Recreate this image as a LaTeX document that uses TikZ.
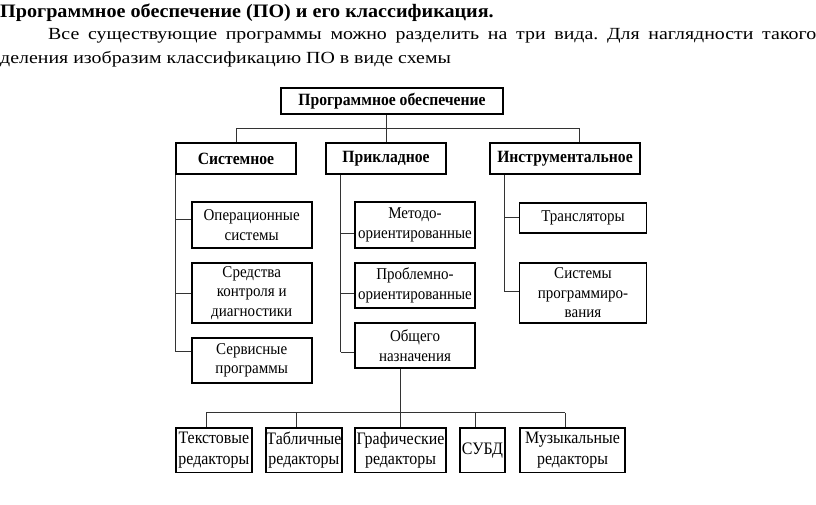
\documentclass[tikz,border=0pt]{standalone}
\usepackage{fontspec}
\setmainfont{Liberation Serif}
\newfontfamily\headfont[FakeStretch=1.06]{Liberation Serif}
\newfontfamily\bodyfont[FakeStretch=1.17]{Liberation Serif}
\newfontfamily\boxfont[FakeStretch=0.91]{Liberation Serif}
\frenchspacing
\begin{document}
\begin{tikzpicture}[x=1pt,y=-1pt,
  box/.style={draw=black, line width=1.6pt, inner sep=0pt, align=center, font=\boxfont\fontsize{16.5}{19.5}\selectfont},
  hbox/.style={box, font=\boxfont\fontsize{17.2}{19}\selectfont\bfseries},
  bbox/.style={box, minimum height=44.7pt, font=\boxfont\fontsize{17.5}{20.5}\selectfont},
  conn/.style={draw=black!80, line width=0.9pt},
  txt/.style={anchor=base west, inner sep=0pt}]
\useasboundingbox (0,0) rectangle (816,504);
% heading text
\node[txt, font=\headfont\fontsize{19}{22}\selectfont\bfseries] (h1) at (0,17) {Программное обеспечение (ПО) и его классификация.};
\node[txt, font=\bodyfont\fontsize{17}{22}\selectfont] (h2) at (48,39.5) {\makebox[768pt][s]{Все существующие программы можно разделить на три вида. Для наглядности такого}};
\node[txt, font=\bodyfont\fontsize{17}{22}\selectfont] (h3) at (0,63) {деления изобразим классификацию ПО в виде схемы};
% boxes
\node[hbox, minimum width=222pt, minimum height=26pt] (top) at (392,101) {Программное обеспечение};
\node[hbox, minimum width=120pt, minimum height=31pt] (sys) at (236,158.5) {Системное};
\node[hbox, minimum width=120pt, minimum height=31pt] (app) at (386,158.5) {Прикладное};
\node[hbox, minimum width=150pt, minimum height=31pt] (ins) at (565,158.5) {Инструментальное};
\node[box, minimum width=120pt, minimum height=46pt] (os) at (251.7,225) {Операционные\\системы};
\node[box, minimum width=120pt, minimum height=60pt] (diag) at (251.7,293) {Средства\\контроля и\\диагностики};
\node[box, minimum width=120pt, minimum height=45pt] (serv) at (251.7,360.5) {Сервисные\\программы};
\node[box, minimum width=120pt, minimum height=46pt] (met) at (415,225) {Методо-\\ориентированные};
\node[box, minimum width=120pt, minimum height=45pt] (prob) at (415,285.5) {Проблемно-\\ориентированные};
\node[box, minimum width=120pt, minimum height=45pt] (gen) at (415,345.5) {Общего\\назначения};
\node[box, minimum width=127pt, minimum height=30pt] (trans) at (583,218) {Трансляторы};
\node[box, minimum width=127pt, minimum height=60pt] (sprog) at (583,293) {Системы\\программиро-\\вания};
\node[bbox, minimum width=75.7pt] (tx) at (213.9,450.3) {Текстовые\\редакторы};
\node[bbox, minimum width=75.7pt] (tb) at (303.9,450.3) {Табличные\\редакторы};
\node[bbox, minimum width=91pt] (gr) at (400.5,450.3) {Графические\\редакторы};
\node[bbox, minimum width=45pt] (db) at (482.5,450.3) {СУБД};
\node[bbox, minimum width=105pt] (mu) at (572.5,450.3) {Музыкальные\\редакторы};
% top bus
\coordinate (tbus) at (386,128.3);
\coordinate (tbusR) at (579,128.3);
\draw[conn] (top.south -| tbus) -- (tbus);
\draw[conn] (sys.north |- tbus) -- (tbusR);
\draw[conn] (sys.north |- tbus) -- (sys.north);
\draw[conn] (app.north |- tbus) -- (app.north);
\draw[conn] (tbusR) -- (tbusR |- ins.north);
% left column
\coordinate (sv) at (sys.south west);
\draw[conn] (sv) -- (sv |- 0,351);
\draw[conn] (sv |- 0,219) -- (os.west |- 0,219);
\draw[conn] (sv |- 0,293) -- (diag.west |- 0,293);
\draw[conn] (sv |- 0,351) -- (serv.west |- 0,351);
% middle column
\coordinate (av) at ([xshift=15.3pt]app.south west);
\draw[conn] (av) -- (av |- 0,352);
\draw[conn] (av |- 0,233) -- (met.west |- 0,233);
\draw[conn] (av |- 0,293) -- (prob.west |- 0,293);
\draw[conn] (av |- 0,352) -- (gen.west |- 0,352);
% right column
\coordinate (iv) at ([xshift=15pt]ins.south west);
\draw[conn] (iv) -- (iv |- 0,291.7);
\draw[conn] (iv |- 0,217.3) -- (trans.west |- 0,217.3);
\draw[conn] (iv |- 0,291.7) -- (sprog.west |- 0,291.7);
% bottom bus
\coordinate (gv) at (400.7,368);
\coordinate (bL) at (206,412.7);
\coordinate (bR) at (565,412.7);
\draw[conn] (gen.south -| gv) -- (gv |- bL);
\draw[conn] (bL) -- (bR);
\draw[conn] (bL) -- (bL |- tx.north);
\draw[conn] (296,412.7) -- (296,412.7 |- tb.north);
\draw[conn] (gv |- bL) -- (gv |- gr.north);
\draw[conn] (475,412.7) -- (475,412.7 |- db.north);
\draw[conn] (bR) -- (bR |- mu.north);
\end{tikzpicture}
\end{document}
